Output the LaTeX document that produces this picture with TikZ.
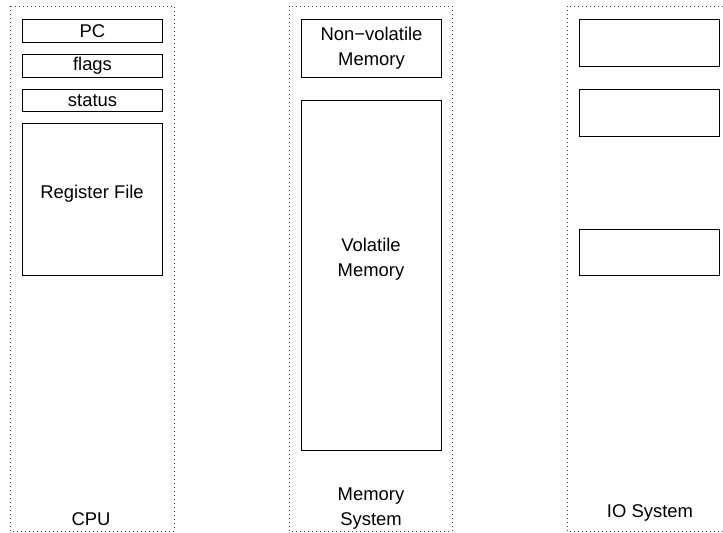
\documentclass[tikz,border=0pt]{standalone}
\usepackage{fontspec}
\setmainfont{Liberation Sans}
\begin{document}
\begin{tikzpicture}[x=1bp,y=-1bp,
  every node/.style={font=\fontsize{18.5}{25}\selectfont, text=black},
  column/.style={draw=black!75, line width=0.7bp, dash pattern=on 0.7bp off 3.3bp},
  unit/.style={draw=black, line width=1bp, rectangle, inner sep=0pt, anchor=north west},
  caption/.style={align=center, inner sep=0pt}
]
\useasboundingbox (0,0) rectangle (723,533);

% dotted outlines of the three subsystems
\draw[column] (10,6) rectangle (174,531);
\draw[column] (289,6) rectangle (452,531);
% the IO frame runs past the right edge of the page
\draw[column] (723,6) -- (567,6) -- (567,531) -- (723,531);

% CPU
\node[unit, minimum width=140bp, minimum height=23bp] (pc) at (22,19) {};
\node at (pc.center) {PC};
\node[unit, minimum width=140bp, minimum height=23bp] (flags) at (22,54) {};
\node at (flags.center) {flags};
\node[unit, minimum width=140bp, minimum height=22bp] (status) at (22,89) {};
\node at (status.center) {status};
\node[unit, minimum width=140bp, minimum height=152bp] (regs) at (22,123) {};
\node (regslbl) at (92,194) {Register File};
\node[caption] (cpu) at (91,519) {CPU};

% memory system
\node[unit, minimum width=140bp, minimum height=58bp] (nvm) at (301,19) {};
\node[caption] (nvmlbl) at (nvm.center) {Non−volatile\\Memory};
\node[unit, minimum width=140bp, minimum height=350bp] (vm) at (301,100) {};
\node[caption] (vmlbl) at (371,259) {Volatile\\Memory};
\node[caption] (mem) at (371,509) {Memory\\System};

% IO system
\node[unit, minimum width=140bp, minimum height=47bp] (io1) at (579,19) {};
\node[unit, minimum width=140bp, minimum height=47bp] (io2) at (579,89) {};
\node[unit, minimum width=140bp, minimum height=46bp] (io3) at (579,229) {};
\node[caption] (io) at (650,513) {IO System};
\end{tikzpicture}
\end{document}
